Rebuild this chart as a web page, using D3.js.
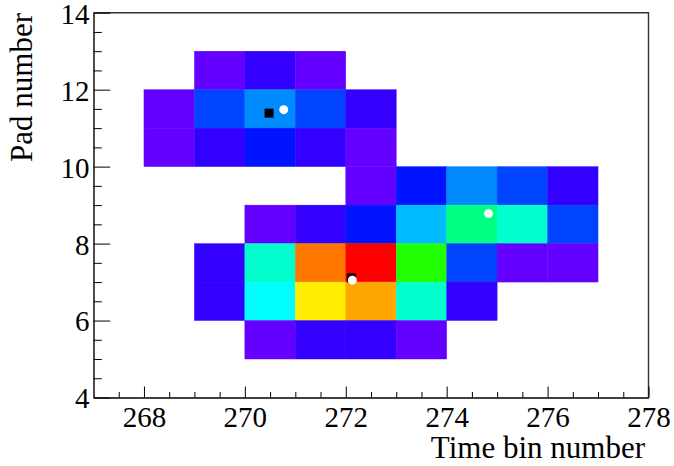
<!DOCTYPE html>
<html>
<head>
<meta charset="utf-8">
<script src="https://cdn.jsdelivr.net/npm/d3@7"></script>
<style>
  html, body { margin: 0; padding: 0; background: #fff; }
  svg { display: block; }
  .tick text { font-family: "Liberation Serif", "Times New Roman", serif; }
</style>
</head>
<body>
<svg id="chart" width="674" height="466"></svg>
<script>
// Hit map: one cell per (time bin, pad) with its collected charge
const timeBin = [
  269, 270, 271,
  268, 269, 270, 271, 272,
  268, 269, 270, 271, 272,
  272, 273, 274, 275, 276,
  270, 271, 272, 273, 274, 275, 276,
  269, 270, 271, 272, 273, 274, 275, 276,
  269, 270, 271, 272, 273, 274,
  270, 271, 272, 273
];
const pad = [
  12, 12, 12,
  11, 11, 11, 11, 11,
  10, 10, 10, 10, 10,
  9, 9, 9, 9, 9,
  8, 8, 8, 8, 8, 8, 8,
  7, 7, 7, 7, 7, 7, 7, 7,
  6, 6, 6, 6, 6, 6,
  5, 5, 5, 5
];
const charge = [
  24, 44, 26,
  23, 94, 125, 96, 45,
  25, 46, 74, 43, 27,
  22, 76, 124, 93, 42,
  28, 47, 73, 146, 224, 193, 97,
  41, 194, 446, 500, 293, 95, 24, 23,
  45, 175, 395, 424, 196, 44,
  26, 43, 47, 25
];

// Reconstructed track points
const squareT = [270.48, 272.11];
const squareP = [11.39, 7.11];
const circleT = [270.77, 272.13, 274.83];
const circleP = [11.48, 7.05, 8.78];

// Axis ticks
const xMajor = [268, 270, 272, 274, 276, 278];
const yMajor = [4, 6, 8, 10, 12, 14];
const xTitle = "Time bin number";
const yTitle = "Pad number";

const svg = d3.select("#chart");
const plotL = 93.5, plotR = 648.5, plotT = 12.7, plotB = 397.5;

const x = d3.scaleLinear().domain([267, 278]).range([plotL, plotR]);
const y = d3.scaleLinear().domain([4, 14]).range([plotB, plotT]);

// 50-step violet-to-red palette
const palette = d3.range(50).map(i => d3.hsl(280 - (i + 1) * 5.6, 1, 0.5).formatHex());
const color = d3.scaleQuantize().domain([0, 500]).range(palette);

const cells = timeBin.map((t, i) => ({ t, p: pad[i], q: charge[i] }));

svg.append("g")
  .selectAll("rect")
  .data(cells)
  .join("rect")
  .attr("x", d => x(d.t))
  .attr("y", d => y(d.p + 1))
  .attr("width", d => x(d.t + 1) - x(d.t))
  .attr("height", d => y(d.p) - y(d.p + 1))
  .attr("fill", d => color(d.q))
  .attr("stroke", d => color(d.q))
  .attr("stroke-width", 0.4);

// Frame (top and right edges)
svg.append("path")
  .attr("d", `M${plotL},${plotT}H${plotR}V${plotB}`)
  .attr("fill", "none")
  .attr("stroke", "#333")
  .attr("stroke-width", 1.4);

const xMinor = d3.range(267.5, 278, 0.5).filter(v => !xMajor.includes(v));
const yMinor = d3.range(4.5, 14, 0.5).filter(v => !yMajor.includes(v));

const fontSize = 29;

// X axis
const gx = svg.append("g").attr("transform", `translate(0,${plotB})`);
gx.call(d3.axisBottom(x).tickValues(xMajor).tickSizeInner(-11).tickSizeOuter(0).tickPadding(8.5).tickFormat(d3.format("d")));
gx.append("g").call(d3.axisBottom(x).tickValues(xMinor).tickSizeInner(-5.5).tickSizeOuter(0).tickFormat(""))
  .select(".domain").remove();
gx.selectAll("text").attr("font-size", fontSize).attr("fill", "#000");
gx.selectAll("line").attr("stroke", "#000").attr("stroke-width", 1);
gx.select(".domain").attr("stroke", "#000").attr("stroke-width", 1.4);

// Y axis
const gy = svg.append("g").attr("transform", `translate(${plotL},0)`);
gy.call(d3.axisLeft(y).tickValues(yMajor).tickSizeInner(-16.7).tickSizeOuter(0).tickPadding(4).tickFormat(d3.format("d")));
gy.append("g").call(d3.axisLeft(y).tickValues(yMinor).tickSizeInner(-8.3).tickSizeOuter(0).tickFormat(""))
  .select(".domain").remove();
gy.selectAll("text").attr("font-size", fontSize).attr("fill", "#000").attr("dy", "0.36em");
gy.selectAll("line").attr("stroke", "#000").attr("stroke-width", 1);
gy.select(".domain").attr("stroke", "#000").attr("stroke-width", 1.4);

// Axis titles
svg.append("text")
  .attr("x", 645).attr("y", 458)
  .attr("text-anchor", "end")
  .attr("font-family", "Liberation Serif, Times New Roman, serif")
  .attr("font-size", 31)
  .text(xTitle);

svg.append("text")
  .attr("transform", `translate(32,13) rotate(-90)`)
  .attr("text-anchor", "end")
  .attr("font-family", "Liberation Serif, Times New Roman, serif")
  .attr("font-size", 31)
  .text(yTitle);

// Track points
svg.append("g")
  .selectAll("rect")
  .data(squareT.map((t, i) => ({ t, p: squareP[i] })))
  .join("rect")
  .attr("x", d => x(d.t) - 4.5)
  .attr("y", d => y(d.p) - 4.5)
  .attr("width", 9)
  .attr("height", 9)
  .attr("fill", "#000");

svg.append("g")
  .selectAll("circle")
  .data(circleT.map((t, i) => ({ t, p: circleP[i] })))
  .join("circle")
  .attr("cx", d => x(d.t))
  .attr("cy", d => y(d.p))
  .attr("r", 4.5)
  .attr("fill", "#fff");
</script>
</body>
</html>
